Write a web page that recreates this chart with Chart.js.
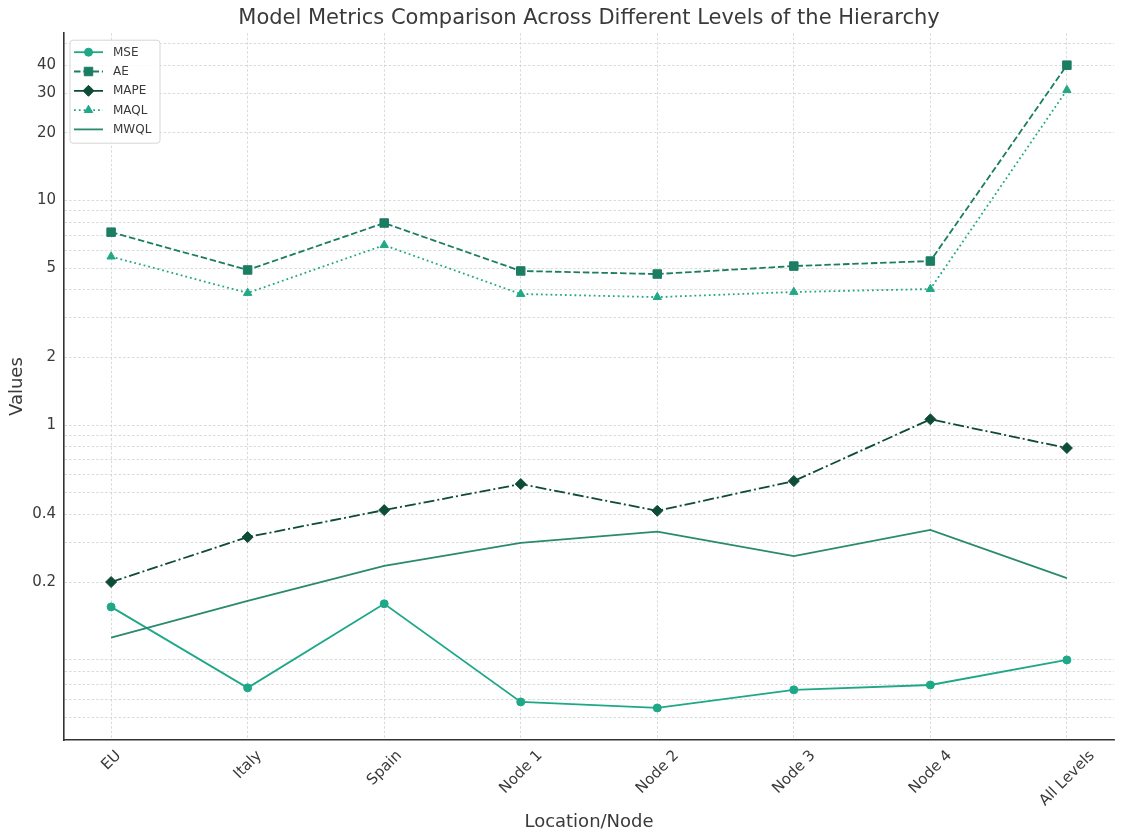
<!DOCTYPE html>
<html>
<head>
<meta charset="utf-8">
<script src="https://cdn.jsdelivr.net/npm/chart.js@4.4.1/dist/chart.umd.min.js"></script>
<style>
  html, body { margin: 0; padding: 0; background: #ffffff; }
  #wrap { width: 1121px; height: 839px; }
</style>
</head>
<body>
<div id="wrap"><canvas id="chart" width="1121" height="839"></canvas></div>
<script>
// Levels of the hierarchy on the x axis
const categories = ['EU', 'Italy', 'Spain', 'Node 1', 'Node 2', 'Node 3', 'Node 4', 'All Levels'];

// Metric values per level
const mse  = [0.155, 0.0676, 0.160, 0.0585, 0.0550, 0.0662, 0.0696, 0.090];
const ae   = [7.22, 4.90, 7.93, 4.85, 4.70, 5.10, 5.37, 40.0];
const mape = [0.200, 0.317, 0.418, 0.546, 0.415, 0.563, 1.06, 0.79];
const maql = [5.62, 3.87, 6.32, 3.83, 3.71, 3.91, 4.03, 31.0];
const mwql = [0.113, 0.165, 0.236, 0.299, 0.335, 0.261, 0.341, 0.208];

// Log axis: labelled ticks and every gridline position
const yTickLabels = [0.2, 0.4, 1, 2, 5, 10, 20, 30, 40];
const yGridValues = [0.05, 0.06, 0.07, 0.08, 0.09, 0.2, 0.3, 0.4, 0.5, 0.6, 0.7, 0.8, 0.9,
                     1, 2, 3, 4, 5, 6, 7, 8, 9, 10, 20, 30, 40, 50];

const FONT = "'DejaVu Sans', 'Liberation Sans', sans-serif";
const TEXT = '#3a3a3a';
const GRID = 'rgba(200,200,200,0.85)';

const toPoints = (arr) => arr.map((v, i) => ({ x: i, y: v }));

function series(label, values, color, style, radius, dash, order) {
  return {
    label,
    data: toPoints(values),
    borderColor: color,
    backgroundColor: color,
    borderWidth: 1.8,
    borderDash: dash,
    borderCapStyle: 'butt',
    pointStyle: style,
    pointRadius: radius,
    pointHoverRadius: radius,
    pointBackgroundColor: color,
    pointBorderColor: color,
    pointBorderWidth: 1,
    tension: 0,
    fill: false,
    order
  };
}

// Centre each rotated x label under its tick (rotated labels are end-anchored by default)
const centerRotatedLabels = {
  id: 'centerRotatedLabels',
  beforeDraw(chart) {
    const scale = chart.scales.x;
    if (!scale || typeof scale.getLabelItems !== 'function') return;
    const items = scale.getLabelItems(chart.chartArea);
    const { ctx } = chart;
    const k = Math.SQRT1_2 / 2;
    ctx.save();
    items.forEach((item, i) => {
      if (!item.options || !item.options.translation) return;
      ctx.font = item.font.string;
      const w = ctx.measureText(String(item.label)).width;
      item.options.translation[0] = scale.getPixelForTick(i) + k * w - 6;
    });
    ctx.restore();
  }
};

// Legend box drawn inside the plot's upper-left corner
const insideLegend = {
  id: 'insideLegend',
  afterDraw(chart) {
    const { ctx, chartArea } = chart;
    const x0 = chartArea.left + 6, y0 = chartArea.top + 7, w = 90, h = 103;
    ctx.save();
    ctx.beginPath();
    if (ctx.roundRect) ctx.roundRect(x0, y0, w, h, 3); else ctx.rect(x0, y0, w, h);
    ctx.fillStyle = 'rgba(255,255,255,0.85)';
    ctx.fill();
    ctx.lineWidth = 1;
    ctx.strokeStyle = '#d6d6d6';
    ctx.stroke();
    chart.data.datasets.forEach((ds, i) => {
      const cy = y0 + 12 + i * 19.3;
      ctx.save();
      ctx.strokeStyle = ds.borderColor;
      ctx.lineWidth = ds.borderWidth;
      ctx.setLineDash(ds.borderDash || []);
      ctx.beginPath();
      ctx.moveTo(x0 + 4, cy);
      ctx.lineTo(x0 + 33, cy);
      ctx.stroke();
      ctx.restore();
      if (ds.pointRadius > 0) {
        ctx.save();
        ctx.fillStyle = ds.pointBackgroundColor;
        ctx.strokeStyle = ds.pointBorderColor;
        Chart.helpers.drawPoint(ctx, {
          pointStyle: ds.pointStyle, rotation: 0,
          radius: ds.pointRadius, borderWidth: 1
        }, x0 + 18.5, cy);
        ctx.restore();
      }
      ctx.fillStyle = TEXT;
      ctx.font = '12px ' + FONT;
      ctx.textBaseline = 'middle';
      ctx.textAlign = 'left';
      ctx.fillText(ds.label, x0 + 43, cy + 0.5);
    });
    ctx.restore();
  }
};

new Chart(document.getElementById('chart'), {
  type: 'line',
  data: {
    datasets: [
      series('MSE',  mse,  '#1fa888', 'circle',   4,   [], 5),
      series('AE',   ae,   '#1b7d62', 'rect',     6,   [6.5, 2.8], 4),
      series('MAPE', mape, '#0e4b39', 'rectRot',  5.5, [11, 3, 2, 3], 3),
      series('MAQL', maql, '#22a886', 'triangle', 4.8, [1.8, 3], 2),
      series('MWQL', mwql, '#2a8a6f', 'circle',   0,   [], 1)
    ]
  },
  options: {
    responsive: false,
    devicePixelRatio: 1,
    animation: false,
    layout: { padding: { left: 0, right: 5, top: 0, bottom: 0 } },
    plugins: {
      legend: { display: false },
      tooltip: { enabled: false },
      title: {
        display: true,
        fullSize: false, // centred over the plot area only
        text: 'Model Metrics Comparison Across Different Levels of the Hierarchy',
        color: TEXT,
        font: { family: FONT, size: 21, weight: 'normal' },
        padding: { top: 6, bottom: 2 }
      }
    },
    scales: {
      x: {
        type: 'linear',
        min: -0.345,
        max: 7.345,
        afterBuildTicks: (s) => { s.ticks = categories.map((_, i) => ({ value: i })); },
        afterFit: (s) => { s.height = 99; },
        ticks: {
          autoSkip: false,
          minRotation: 45,
          maxRotation: 45,
          padding: 7,
          color: TEXT,
          font: { family: FONT, size: 15 },
          callback: (v) => categories[v] ?? ''
        },
        grid: { color: GRID, lineWidth: 0.8, drawTicks: false },
        border: { display: true, color: '#333333', width: 1.6, dash: [2.5, 2] },
        title: {
          display: true,
          text: 'Location/Node',
          color: TEXT,
          font: { family: FONT, size: 18 },
          padding: { top: 0, bottom: 6 }
        }
      },
      y: {
        type: 'logarithmic',
        min: 0.0396,
        max: 55.5,
        afterBuildTicks: (s) => { s.ticks = yGridValues.map((v) => ({ value: v })); },
        afterFit: (s) => { s.width = 64; },
        ticks: {
          autoSkip: false,
          padding: 8,
          color: TEXT,
          font: { family: FONT, size: 15 },
          callback: (v) => (yTickLabels.includes(v) ? String(v) : '')
        },
        grid: { color: GRID, lineWidth: 0.8, drawTicks: false },
        border: { display: true, color: '#333333', width: 1.6, dash: [2.5, 2] },
        title: {
          display: true,
          text: 'Values',
          color: TEXT,
          font: { family: FONT, size: 18 },
          padding: { top: 7, bottom: 0 }
        }
      }
    }
  },
  plugins: [centerRotatedLabels, insideLegend]
});
</script>
</body>
</html>
